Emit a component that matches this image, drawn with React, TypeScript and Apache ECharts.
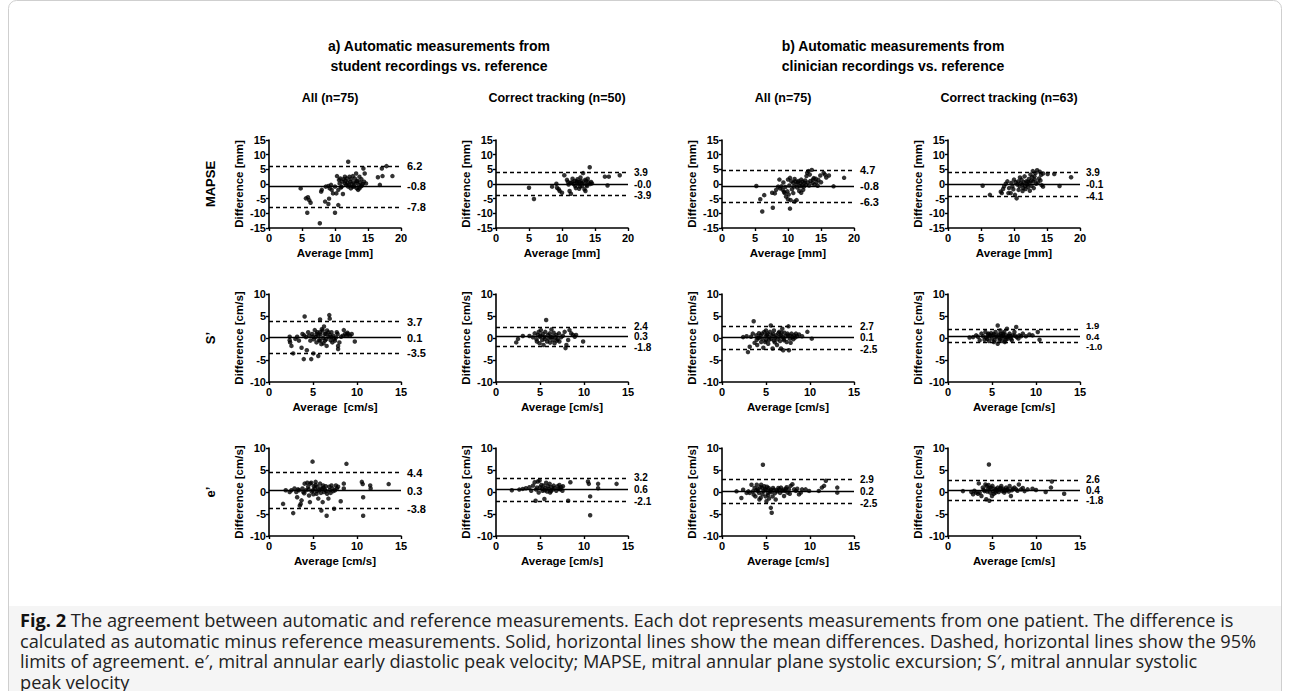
import React, { useEffect, useRef } from 'react';
import * as echarts from 'echarts';

// ---------- DATA ----------
const groupTitles = [
  ['a) Automatic measurements from', 'student recordings vs. reference'],
  ['b) Automatic measurements from', 'clinician recordings vs. reference'],
];
const columnTitles = ['All (n=75)', 'Correct tracking (n=50)', 'All (n=75)', 'Correct tracking (n=63)'];
const rowLabels = ['MAPSE', 'S’', 'e’'];
const xAxisNames = [
  ['Average [mm]', 'Average [mm]', 'Average [mm]', 'Average [mm]'],
  ['Average  [cm/s]', 'Average [cm/s]', 'Average [cm/s]', 'Average [cm/s]'],
  ['Average [cm/s]', 'Average [cm/s]', 'Average [cm/s]', 'Average [cm/s]'],
];
const yAxisNames = ['Difference [mm]', 'Difference [cm/s]', 'Difference [cm/s]'];
const xMax = [20, 15, 15];
const yRange = [15, 10, 10];
const tickStep = 5;

// [upper LoA, mean, lower LoA]
const mapseLimits = [[6.2, -0.8, -7.8], [3.9, -0.04, -3.9], [4.7, -0.8, -6.3], [3.9, -0.1, -4.1]];
const mapseLimitLabels = [['6.2', '-0.8', '-7.8'], ['3.9', '-0.0', '-3.9'], ['4.7', '-0.8', '-6.3'], ['3.9', '-0.1', '-4.1']];
const sLimits = [[3.7, 0.1, -3.5], [2.4, 0.3, -1.8], [2.7, 0.1, -2.5], [1.9, 0.4, -1.0]];
const sLimitLabels = [['3.7', '0.1', '-3.5'], ['2.4', '0.3', '-1.8'], ['2.7', '0.1', '-2.5'], ['1.9', '0.4', '-1.0']];
const eLimits = [[4.4, 0.3, -3.8], [3.2, 0.6, -2.1], [2.9, 0.2, -2.5], [2.6, 0.4, -1.8]];
const eLimitLabels = [['4.4', '0.3', '-3.8'], ['3.2', '0.6', '-2.1'], ['2.9', '0.2', '-2.5'], ['2.6', '0.4', '-1.8']];

const mapseStudentAll = [[4.8,-1.5],[5.6,-4.9],[5.9,-4.5],[6.1,-5.5],[6.3,-6.4],[5.8,-9.8],[7.7,-13.4],[7.9,-2.6],[8.0,-2.0],[8.5,-6.0],[9.0,-6.8],[9.1,-5.0],[8.6,-0.9],[9.0,-0.7],[9.2,-1.5],[9.4,-0.3],[9.5,-2.0],[9.7,-3.2],[10.0,-9.8],[10.2,-3.2],[10.5,-7.2],[10.3,2.7],[10.6,1.4],[10.7,0.2],[10.8,1.9],[11.0,-0.9],[11.1,0.8],[11.2,-3.4],[11.3,1.6],[11.5,0.2],[11.6,1.1],[11.7,-0.3],[11.9,0.5],[12.0,7.6],[12.0,-0.9],[12.2,2.5],[12.3,0.8],[12.4,1.6],[12.5,0.0],[12.7,2.7],[12.8,0.5],[12.9,-0.9],[13.0,1.9],[13.1,0.2],[13.2,3.6],[13.3,-1.5],[13.4,1.1],[13.5,-2.0],[13.6,-0.3],[13.7,2.5],[13.8,0.5],[13.9,-0.9],[14.0,1.6],[14.2,0.0],[14.3,5.3],[14.4,0.8],[14.5,3.6],[14.7,0.2],[16.5,2.3],[17.2,2.7],[16.8,-0.3],[17.1,5.3],[17.8,6.1],[18.7,2.7],[12.4,-1.5],[10.0,-0.9],[10.5,-2.0],[11.5,2.5],[12.7,-0.9],[13.7,-1.5],[11.8,1.9],[12.1,-0.4],[13.3,0.9],[10.9,-1.2],[14.1,-0.5]];
const mapseStudentCorrect = [[5.0,-1.3],[5.75,-5.1],[8.5,-0.9],[9.15,0.1],[9.25,-1.3],[9.5,-1.8],[9.65,-2.4],[10.0,-3.0],[10.35,3.0],[10.75,1.4],[10.9,0.7],[11.15,-2.4],[11.35,-3.3],[11.5,0.5],[11.75,0.0],[11.9,1.0],[12.0,-0.7],[12.25,0.5],[12.35,1.6],[12.5,0.0],[12.65,0.7],[12.75,-0.9],[12.9,1.0],[13.05,-0.7],[13.2,3.7],[13.25,0.2],[13.4,-1.8],[13.55,-2.4],[13.65,1.0],[13.8,-0.7],[13.9,1.8],[14.0,0.5],[14.2,5.7],[14.25,0.0],[14.4,0.7],[14.55,0.2],[16.5,2.5],[17.1,2.5],[16.9,-0.5],[18.75,3.0],[11.0,-0.2],[11.6,1.8],[12.1,-1.4],[12.8,2.2],[13.0,0.3],[13.5,1.4],[12.2,0.9],[11.3,0.4],[13.7,-0.3],[12.6,-1.6]];
const mapseClinicianAll = [[5.2,-0.7],[5.8,-5.2],[6.1,-9.4],[6.4,-3.8],[7.7,-8.1],[7.6,-3.0],[8.0,-3.2],[8.2,-2.0],[8.5,-0.9],[8.7,1.5],[9.0,-0.8],[9.2,-2.0],[9.5,-3.1],[9.7,-4.3],[10.0,-5.2],[10.3,-8.4],[10.4,-5.5],[10.8,-3.1],[11.0,-6.0],[11.3,-5.5],[10.0,1.5],[10.3,2.1],[10.5,0.9],[10.8,0.4],[11.0,1.7],[11.3,-0.2],[11.5,0.6],[11.8,-0.8],[12.0,1.5],[12.3,-2.0],[12.5,0.4],[12.8,2.7],[12.9,3.8],[13.1,4.4],[13.3,3.2],[13.6,4.8],[13.8,1.5],[14.0,-0.2],[14.3,0.6],[14.5,-0.6],[14.9,2.9],[15.4,3.8],[15.6,3.2],[16.2,2.9],[16.9,-0.8],[18.5,2.1],[8.8,-1.5],[9.3,0.5],[9.6,-1.0],[9.9,-2.5],[10.2,-0.5],[10.6,-1.8],[10.9,-0.9],[11.1,0.9],[11.4,-1.2],[11.6,1.0],[11.9,0.2],[12.1,-0.5],[12.2,0.8],[12.4,-0.9],[12.6,1.2],[12.7,-0.3],[13.0,0.5],[13.2,-0.5],[13.4,1.0],[13.7,0.3],[13.9,2.0],[14.2,1.8],[14.6,1.4],[15.0,0.6],[15.8,2.2],[12.0,-3.0],[11.7,-2.4],[9.4,-2.7],[10.1,-3.6]];
const mapseClinicianCorrect = [[5.25,-0.6],[6.35,-3.7],[8.0,-2.6],[8.15,-3.1],[8.35,-1.7],[8.5,-0.8],[8.75,0.1],[9.0,0.9],[9.15,-3.1],[9.25,-1.4],[9.5,-3.1],[9.75,-0.8],[10.0,1.5],[10.15,-3.7],[10.25,0.6],[10.4,-4.9],[10.5,-0.2],[10.65,0.9],[10.85,-0.8],[11.0,0.3],[11.15,1.5],[11.25,-0.2],[11.4,-1.4],[11.5,0.6],[11.65,-0.6],[11.75,-1.7],[11.85,0.9],[12.0,-0.2],[12.15,-1.0],[12.25,1.7],[12.35,0.3],[12.5,3.2],[12.65,-0.6],[12.75,2.4],[12.85,4.4],[13.0,-1.4],[13.15,1.5],[13.25,3.7],[13.35,0.1],[13.5,4.7],[13.9,4.2],[14.1,3.1],[14.4,3.6],[15.1,3.4],[16.1,3.4],[18.65,2.3],[14.4,-0.9],[14.2,-0.4],[16.9,-0.7],[9.6,0.4],[10.9,2.2],[11.6,2.6],[12.1,0.8],[12.9,0.9],[13.6,0.5],[13.8,1.9],[11.3,-2.4],[10.7,-2.0],[12.4,-2.3],[9.9,-1.8],[13.1,2.6],[14.0,1.2],[12.6,1.1]];

const sStudentAll = [[2.35,0.3],[2.35,-0.5],[2.4,-1.0],[2.55,-1.8],[2.75,-3.5],[3.2,0.3],[3.4,-0.6],[3.7,-2.2],[3.8,0.9],[4.05,4.9],[3.95,-4.8],[4.3,-2.8],[4.55,0.5],[4.7,-0.6],[4.8,-4.8],[4.9,0.9],[5.05,-3.5],[5.2,1.8],[5.3,0.2],[5.4,-1.0],[5.5,1.3],[5.6,-4.1],[5.7,-0.5],[5.8,4.2],[5.85,0.8],[5.95,-1.4],[6.1,1.7],[6.15,0.0],[6.25,2.6],[6.35,-0.6],[6.45,0.9],[6.55,-1.8],[6.6,1.7],[6.75,0.3],[6.85,5.2],[6.9,4.4],[7.0,-0.5],[7.1,1.3],[7.2,-1.0],[7.3,0.5],[7.4,-0.2],[7.85,-1.8],[7.85,-2.5],[8.0,-1.0],[7.7,1.3],[7.8,0.9],[8.4,0.5],[8.5,1.8],[8.65,0.9],[8.8,0.5],[9.0,0.9],[9.2,0.5],[9.4,0.9],[9.75,-0.8],[8.2,0.3],[5.4,0.9],[5.0,0.3],[5.8,1.3],[4.45,1.3],[4.2,0.2],[5.8,-0.6],[6.35,0.9],[6.75,1.3],[7.1,0.2],[7.5,-0.6],[6.0,2.0],[5.1,-0.3],[6.5,-0.3],[4.0,0.6],[3.0,-0.2],[6.9,0.7],[5.6,0.6],[6.2,-1.2],[7.6,0.1],[8.9,1.2]];
const sStudentCorrect = [[2.3,-1.0],[2.5,-0.2],[3.05,0.45],[3.8,0.45],[4.2,0.15],[4.4,1.05],[4.6,-0.3],[4.65,-0.8],[4.75,0.7],[4.85,1.4],[4.95,-1.2],[5.0,0.3],[5.1,1.8],[5.25,-0.45],[5.3,0.9],[5.4,-1.6],[5.5,0.3],[5.6,1.4],[5.7,4.1],[5.8,-0.8],[5.9,0.7],[6.0,-0.1],[6.1,1.05],[6.15,-1.05],[6.3,1.95],[6.4,0.3],[6.45,-0.45],[6.55,1.2],[6.65,-1.2],[6.75,0.15],[6.85,0.7],[7.0,-0.3],[7.15,1.05],[7.2,-0.8],[7.4,0.15],[8.0,-1.6],[7.9,-2.3],[8.2,-0.45],[7.8,1.4],[8.35,1.8],[8.55,1.05],[8.75,0.7],[8.95,0.3],[9.1,0.7],[9.9,-0.8],[5.05,0.5],[6.2,0.2],[6.9,-0.6],[7.6,0.5],[5.55,-0.2]];
const sClinicianAll = [[2.4,0.2],[2.8,0.4],[2.95,-3.2],[3.15,-2.0],[3.5,1.0],[3.6,3.8],[3.7,-1.1],[3.9,0.6],[3.95,-0.4],[4.2,1.1],[4.25,0.1],[4.45,-0.9],[4.55,1.0],[4.6,-0.15],[4.8,1.35],[4.95,0.4],[5.0,-0.5],[5.2,1.0],[5.3,0.2],[5.35,-0.4],[5.55,2.85],[5.65,0.6],[5.75,-2.4],[5.9,1.7],[6.05,0.1],[6.5,1.4],[6.7,0.6],[6.85,2.1],[7.05,-0.5],[7.25,0.4],[7.45,1.0],[7.55,2.65],[7.6,-2.8],[7.7,-0.15],[7.8,-1.1],[7.9,1.0],[8.0,0.2],[8.2,0.6],[8.4,1.0],[8.55,0.4],[8.75,0.8],[9.1,0.4],[9.7,1.4],[10.2,-0.15],[6.95,-2.8],[6.7,-2.4],[3.3,0.3],[4.0,-1.6],[4.4,0.6],[4.7,-2.2],[4.9,-0.9],[5.1,0.7],[5.25,-1.3],[5.45,1.4],[5.6,-0.2],[5.8,0.9],[6.0,-1.0],[6.15,0.6],[6.3,-0.3],[6.4,1.1],[6.6,-0.7],[6.75,1.2],[6.9,0.2],[7.1,1.2],[7.35,-0.9],[7.5,0.6],[7.75,0.5],[8.1,-0.3],[8.3,0.1],[6.25,-1.6],[5.0,1.7],[4.1,0.0],[7.0,-0.2],[6.55,0.3],[5.9,-0.6]];
const sClinicianCorrect = [[2.45,0.1],[2.85,0.2],[3.2,0.6],[3.6,-0.5],[3.8,1.0],[4.0,0.4],[4.15,-0.4],[4.25,1.35],[4.35,0.1],[4.55,0.8],[4.65,-0.7],[4.7,0.4],[4.9,1.1],[5.0,-0.15],[5.1,0.6],[5.3,-0.5],[5.4,1.35],[5.45,0.2],[5.65,2.85],[5.65,-1.3],[5.75,0.8],[5.85,-0.4],[5.95,1.7],[6.05,0.4],[6.15,-0.7],[6.25,1.0],[6.35,0.1],[6.4,1.35],[6.55,-0.4],[6.6,0.6],[6.7,2.1],[6.8,0.2],[7.0,1.0],[7.15,-0.15],[7.35,0.6],[7.55,1.35],[7.75,2.5],[7.8,0.2],[8.1,0.6],[8.5,1.0],[8.85,0.4],[9.25,0.8],[9.6,0.6],[10.2,1.35],[10.4,-0.4],[3.4,0.3],[4.45,-0.2],[4.8,0.6],[5.2,0.9],[5.55,0.4],[5.9,-0.1],[6.0,0.9],[6.3,0.5],[6.45,-0.9],[6.9,0.5],[7.1,0.4],[7.25,-0.5],[7.6,0.5],[8.0,-0.1],[8.3,0.4],[5.2,-0.9],[4.6,1.0],[6.75,-0.2]];

const eStudentAll = [[1.6,-2.7],[1.9,0.4],[2.35,0.0],[2.55,0.4],[2.75,-4.8],[2.9,0.8],[3.1,0.0],[3.2,-1.2],[3.4,0.4],[3.5,-3.1],[3.6,-2.7],[3.7,-1.9],[3.8,0.8],[3.9,0.0],[4.05,1.9],[4.2,0.4],[4.35,2.1],[4.45,1.2],[4.55,-0.8],[4.65,-2.3],[4.7,1.9],[4.8,2.1],[4.95,6.9],[5.0,0.4],[5.1,1.3],[5.2,0.8],[5.3,2.3],[5.4,-0.4],[5.5,1.2],[5.6,-1.5],[5.7,0.4],[5.8,1.9],[5.85,0.8],[5.95,-4.2],[6.1,-2.3],[6.15,1.5],[6.25,0.0],[6.35,0.5],[6.45,1.3],[6.55,-5.4],[6.6,-0.4],[6.75,-1.5],[6.85,1.2],[6.9,0.4],[7.1,1.5],[7.2,0.8],[7.4,-3.8],[7.5,0.4],[7.6,1.5],[7.7,0.8],[7.85,1.2],[8.15,-2.1],[8.5,1.9],[8.5,0.8],[8.8,6.4],[10.55,2.3],[10.65,1.8],[10.7,-1.2],[10.7,-5.4],[11.5,1.5],[11.55,0.8],[13.6,1.8],[4.0,-0.3],[4.5,0.6],[5.05,-0.5],[5.45,0.2],[5.9,-0.2],[6.05,0.7],[6.5,0.2],[7.0,-0.2],[7.3,0.2],[6.2,1.0],[5.3,1.6],[4.85,0.1],[3.3,0.6]];
const eStudentCorrect = [[1.8,0.4],[2.65,0.55],[3.05,0.7],[3.4,0.85],[3.8,1.1],[4.0,0.3],[4.2,1.45],[4.4,2.2],[4.5,-2.0],[4.55,0.55],[4.75,2.4],[4.85,-0.1],[4.95,2.6],[5.0,1.1],[5.15,1.6],[5.25,0.7],[5.3,0.3],[5.4,1.45],[5.5,-1.6],[5.6,0.85],[5.7,2.1],[5.8,0.1],[5.9,1.3],[6.0,0.7],[6.1,1.85],[6.15,-0.1],[6.3,1.1],[6.45,0.55],[6.55,1.45],[6.65,0.85],[6.85,0.3],[7.0,1.3],[7.15,0.7],[7.2,1.6],[7.4,1.1],[7.55,0.3],[7.6,1.3],[8.2,-2.0],[8.45,2.2],[10.45,2.4],[10.55,1.85],[10.7,-1.0],[10.7,-5.3],[11.6,1.85],[11.6,0.85],[13.7,1.85],[4.65,1.0],[5.55,0.4],[6.25,0.2],[7.3,0.6]];
const eClinicianAll = [[1.65,0.15],[2.2,-1.35],[2.4,0.5],[2.8,-0.2],[3.0,0.15],[3.15,-0.2],[3.35,1.65],[3.5,0.15],[3.7,0.9],[3.8,-1.0],[3.95,1.65],[4.05,0.7],[4.2,-0.2],[4.25,-1.7],[4.45,1.65],[4.55,0.9],[4.65,6.2],[4.7,0.15],[4.8,1.3],[4.95,-1.0],[5.0,0.5],[5.05,-2.1],[5.2,-0.2],[5.3,0.9],[5.45,0.15],[5.55,-3.6],[5.65,-4.7],[5.75,-1.0],[5.9,0.5],[6.1,-1.7],[6.3,0.15],[6.5,0.6],[6.7,1.0],[6.85,0.25],[7.05,-0.9],[7.25,0.75],[7.45,-0.15],[7.6,0.6],[7.8,1.4],[8.0,1.75],[8.2,0.6],[8.4,0.25],[8.55,0.75],[8.75,-0.55],[8.95,-0.15],[9.1,0.6],[9.5,0.6],[9.9,0.25],[11.0,0.25],[11.35,1.0],[11.6,1.4],[11.8,2.55],[13.1,1.0],[13.1,-0.15],[3.6,-0.6],[4.1,0.3],[4.35,1.1],[4.6,-0.5],[4.9,0.6],[5.1,1.2],[5.25,-0.7],[5.5,0.5],[5.8,0.9],[6.0,-0.3],[6.2,0.4],[6.6,-0.2],[6.95,0.5],[7.15,0.3],[7.7,-0.4],[4.4,-1.3],[5.35,-1.5],[6.4,0.9],[3.9,0.4],[7.35,1.1],[5.6,0.0]];
const eClinicianCorrect = [[1.7,0.2],[2.65,0.0],[2.85,-0.5],[3.2,-0.15],[3.5,1.95],[3.6,-0.15],[3.8,-0.9],[3.95,1.0],[4.15,0.2],[4.25,1.7],[4.35,-1.65],[4.4,1.35],[4.55,0.6],[4.65,6.25],[4.7,-2.0],[4.8,-0.15],[4.9,1.0],[5.0,-0.9],[5.1,0.2],[5.3,0.75],[5.4,-0.15],[5.45,0.6],[5.65,1.0],[5.75,0.0],[5.85,0.6],[6.05,1.35],[6.15,0.2],[6.25,0.75],[6.4,-0.15],[6.6,1.0],[6.8,0.6],[7.0,1.35],[7.15,-0.9],[7.35,0.75],[7.55,1.0],[7.75,0.6],[8.05,1.7],[8.3,0.6],[8.7,0.2],[9.05,0.6],[9.6,0.75],[10.0,0.45],[11.1,0.0],[11.7,1.0],[11.8,2.4],[13.2,-0.4],[3.0,0.3],[3.4,-0.4],[4.05,0.5],[4.45,0.1],[4.75,0.9],[5.2,-0.4],[5.55,0.3],[5.95,0.9],[6.3,0.4],[6.5,0.3],[6.9,0.1],[7.25,0.4],[7.9,0.3],[8.5,0.9],[4.6,1.6],[5.05,1.4],[6.7,0.5]];

const captionLines = [
  'The agreement between automatic and reference measurements. Each dot represents measurements from one patient. The difference is',
  'calculated as automatic minus reference measurements. Solid, horizontal lines show the mean differences. Dashed, horizontal lines show the 95%',
  'limits of agreement. e′, mitral annular early diastolic peak velocity; MAPSE, mitral annular plane systolic excursion; S′, mitral annular systolic',
  'peak velocity',
];

const plotData = [
  [mapseStudentAll, mapseStudentCorrect, mapseClinicianAll, mapseClinicianCorrect],
  [sStudentAll, sStudentCorrect, sClinicianAll, sClinicianCorrect],
  [eStudentAll, eStudentCorrect, eClinicianAll, eClinicianCorrect],
];
const plotLimits = [mapseLimits, sLimits, eLimits];
const plotLimitLabels = [mapseLimitLabels, sLimitLabels, eLimitLabels];

// ---------- LAYOUT ----------
const W = 1290;
const H = 691;
const FONT = '"Liberation Sans", Arial, sans-serif';
const CAP_FONT = '"Open Sans", "Noto Sans", sans-serif';
const colLefts = [269, 496, 722, 948];
const rowTops = [140, 294, 448];
const plotW = 132;
const plotH = 88;

function buildOption() {
  const grid: any[] = [];
  const xAxis: any[] = [];
  const yAxis: any[] = [];
  const series: any[] = [];
  const axisText = { color: '#000', fontWeight: 'bold', fontSize: 11, fontFamily: FONT };
  for (let r = 0; r < 3; r++) {
    for (let c = 0; c < 4; c++) {
      const i = r * 4 + c;
      grid.push({ left: colLefts[c], top: rowTops[r], width: plotW, height: plotH, containLabel: false });
      xAxis.push({
        gridIndex: i, type: 'value', min: 0, max: xMax[r], interval: tickStep,
        name: xAxisNames[r][c], nameLocation: 'middle', nameGap: 19,
        nameTextStyle: { ...axisText, fontSize: 11.5 },
        axisLine: { show: true, onZero: false, lineStyle: { color: '#000', width: 1.6 } },
        axisTick: { show: true, length: 3, lineStyle: { color: '#000', width: 1.4 } },
        axisLabel: { ...axisText, margin: 4 },
        splitLine: { show: false },
      });
      yAxis.push({
        gridIndex: i, type: 'value', min: -yRange[r], max: yRange[r], interval: tickStep,
        name: yAxisNames[r], nameLocation: 'middle', nameGap: 24,
        nameTextStyle: { ...axisText, fontSize: 11.5 },
        axisLine: { show: true, onZero: false, lineStyle: { color: '#000', width: 1.6 } },
        axisTick: { show: true, length: 3, lineStyle: { color: '#000', width: 1.4 } },
        axisLabel: { ...axisText, margin: 3 },
        splitLine: { show: false },
      });
      const lim = plotLimits[r][c];
      const labs = plotLimitLabels[r][c];
      // spread labels apart when the lines are close together
      const pxPerUnit = plotH / (2 * yRange[r]);
      const minGap = Math.min(lim[0] - lim[1], lim[1] - lim[2]) * pxPerUnit;
      const tight = minGap < 12;
      const fs = minGap < 8 ? 9.5 : tight ? 10 : 11;
      const spread = tight ? Math.max(0, (fs + 0.5 - minGap)) : 0;
      const lineLabel = (t: string, dy: number) => ({
        show: true, position: 'end', distance: 6, formatter: t, ...axisText,
        fontSize: fs, lineHeight: fs, offset: [0, dy],
      });
      series.push({
        type: 'scatter', xAxisIndex: i, yAxisIndex: i,
        data: plotData[r][c], symbol: 'circle', symbolSize: 4.5,
        itemStyle: { color: '#000' }, z: 3,
        markLine: {
          silent: true, symbol: 'none', animation: false,
          data: [
            { yAxis: lim[0], lineStyle: { color: '#000', width: 1.3, type: [4, 3] }, label: lineLabel(labs[0], -spread) },
            { yAxis: lim[1], lineStyle: { color: '#000', width: 1.4, type: 'solid' }, label: lineLabel(labs[1], 0) },
            { yAxis: lim[2], lineStyle: { color: '#000', width: 1.3, type: [4, 3] }, label: lineLabel(labs[2], spread) },
          ],
        },
      });
    }
  }

  const graphic: any[] = [];
  graphic.push({
    type: 'rect', shape: { x: 8.5, y: 0.5, width: 1273, height: 720, r: [8, 8, 0, 0] },
    style: { fill: '#fff', stroke: '#cfcfcf', lineWidth: 1 }, z: -10,
  });
  graphic.push({
    type: 'rect', shape: { x: 9, y: 606, width: 1272, height: 90 },
    style: { fill: '#f5f5f5' }, z: -9,
  });
  // group titles
  const groupCenters = [439, 893];
  groupTitles.forEach((lines, g) => {
    lines.forEach((t, k) => {
      graphic.push({
        type: 'text', x: groupCenters[g], y: 46 + k * 20,
        style: { text: t, fill: '#000', font: `bold 14px ${FONT}`, align: 'center', verticalAlign: 'middle' },
      });
    });
  });
  // column titles
  columnTitles.forEach((t, c) => {
    graphic.push({
      type: 'text', x: colLefts[c] + 61, y: 98,
      style: { text: t, fill: '#000', font: `bold 12.5px ${FONT}`, align: 'center', verticalAlign: 'middle' },
    });
  });
  // row labels
  rowLabels.forEach((t, r) => {
    graphic.push({
      type: 'text', x: 210, y: rowTops[r] + plotH / 2, rotation: Math.PI / 2,
      style: { text: t, fill: '#000', font: `bold 13px ${FONT}`, align: 'center', verticalAlign: 'middle' },
    });
  });
  // caption (one multi-line text block)
  const capFs = 18.2;
  const capText = captionLines.map((t, k) => (k === 0 ? `{b|Fig. 2} ${t}` : t)).join('\n');
  graphic.push({
    type: 'text', x: 20, y: 610,
    style: {
      text: capText,
      fill: '#222', font: `${capFs}px ${CAP_FONT}`, lineHeight: 20.5, align: 'left', verticalAlign: 'top',
      rich: { b: { fontWeight: 'bold', fontSize: capFs, lineHeight: 20.5, fontFamily: CAP_FONT, fill: '#111', color: '#111' } },
    },
  });

  return { animation: false, backgroundColor: '#fff', grid, xAxis, yAxis, series, graphic };
}

export default function App() {
  const ref = useRef<HTMLDivElement>(null);
  useEffect(() => {
    if (!ref.current) return;
    const chart = echarts.init(ref.current, undefined, { renderer: 'svg' });
    chart.setOption(buildOption() as any);
    return () => chart.dispose();
  }, []);
  return <div ref={ref} style={{ position: 'fixed', left: 0, top: 0, width: W, height: H, background: '#fff' }} />;
}
